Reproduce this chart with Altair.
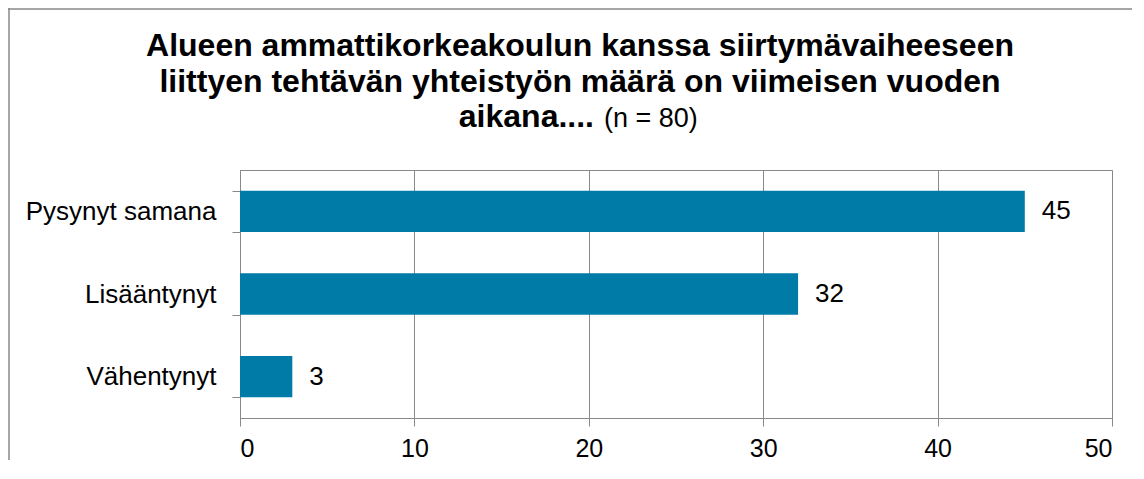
import altair as alt
import pandas as pd

categories = ["Pysynyt samana", "Lisääntynyt", "Vähentynyt"]
values = [45, 32, 3]
x_ticks = [0, 10, 20, 30, 40, 50]
title_line1 = "Alueen ammattikorkeakoulun kanssa siirtymävaiheeseen"
title_line2 = "liittyen tehtävän yhteistyön määrä on viimeisen vuoden"
title_line3_bold = "aikana...."
title_line3_note = "(n = 80)"

df = pd.DataFrame({"cat": categories, "val": values})

GRAY = "#898989"
FONT = "Liberation Sans"
BAR = "#007BA7"

y_enc = alt.Y(
    "cat:N",
    sort=categories,
    title=None,
    scale=alt.Scale(paddingInner=0.5, paddingOuter=0.25),
    axis=alt.Axis(
        tickBand="extent", tickSize=8, labelPadding=16, labelFontSize=26,
        labelColor="black", labelFont=FONT, domainColor=GRAY, tickColor=GRAY,
        grid=False, labelLimit=400,
    ),
)
x_enc = alt.X(
    "val:Q",
    title=None,
    scale=alt.Scale(domain=[0, 50], nice=False),
    axis=alt.Axis(
        values=x_ticks, tickSize=8, labelPadding=10, labelFontSize=25,
        grid=True, gridColor=GRAY, domainColor=GRAY, tickColor=GRAY,
        labelColor="black", labelFont=FONT,
    ),
)

base = alt.Chart(df)
bars = base.mark_bar(color=BAR).encode(x=x_enc, y=y_enc)
labels = base.mark_text(
    align="left", baseline="middle", dx=17, fontSize=26, font=FONT, color="black"
).encode(x="val:Q", y=alt.Y("cat:N", sort=categories), text="val:Q")


def text_mark(txt, xv, yv, weight, size, align):
    return alt.Chart(alt.Data(values=[{}])).mark_text(
        text=txt, align=align, baseline="alphabetic", fontSize=size,
        fontWeight=weight, font=FONT, color="black",
    ).encode(x=alt.value(xv), y=alt.value(yv))


t1 = text_mark(title_line1, 340, -114, "bold", 32, "center")
t2 = text_mark(title_line2, 340, -78, "bold", 32, "center")
t3a = text_mark(title_line3_bold, 354, -43, "bold", 32, "right")
t3b = text_mark(title_line3_note, 364, -43, "normal", 27, "left")

left_border = alt.Chart(alt.Data(values=[{}])).mark_rule(
    color=GRAY, strokeWidth=1.5
).encode(x=alt.value(-231), y=alt.value(-162), y2=alt.value(300))
top_border = alt.Chart(alt.Data(values=[{}])).mark_rule(
    color=GRAY, strokeWidth=1.5
).encode(x=alt.value(-232), x2=alt.value(892), y=alt.value(-161))

chart = alt.layer(left_border, top_border, bars, labels, t1, t2, t3a, t3b).properties(
    width=872,
    height=248,
    autosize=alt.AutoSizeParams(type="none"),
    padding={"left": 232, "top": 162, "right": 20, "bottom": 42},
).configure_view(stroke=GRAY, strokeWidth=1)

chart.save("out.html", embed_options={"renderer": "svg", "actions": False})
